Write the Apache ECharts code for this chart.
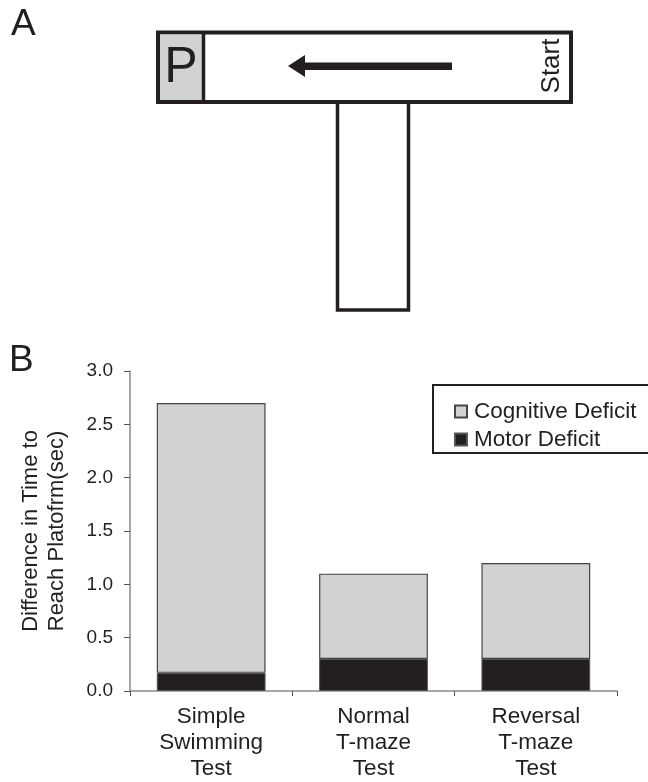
<!DOCTYPE html>
<html>
<head>
<meta charset="utf-8">
<script src="https://cdn.jsdelivr.net/npm/echarts@6/dist/echarts.min.js"></script>
<style>
html,body{margin:0;padding:0;background:#fff;}
#chart{width:648px;height:782px;}
</style>
</head>
<body>
<div id="chart"></div>
<script>
// ---- data ----
const categories = ['Simple\nSwimming\nTest', 'Normal\nT-maze\nTest', 'Reversal\nT-maze\nTest'];
const motorDeficit = [0.17, 0.30, 0.30];
const cognitiveDeficit = [2.53, 0.80, 0.90];
const yTickLabels = ['0.0', '0.5', '1.0', '1.5', '2.0', '2.5', '3.0'];
const seriesNames = ['Cognitive Deficit', 'Motor Deficit'];

const FONT = '"Liberation Sans", Arial, Helvetica, sans-serif';
const INK = '#231f20';
const AXIS = '#8a8a8a';

const chart = echarts.init(document.getElementById('chart'), null, {renderer: 'canvas'});

const option = {
  backgroundColor: '#ffffff',
  animation: false,
  textStyle: {fontFamily: FONT, color: INK},
  grid: {left: 130, right: 31, top: 371, bottom: 89, containLabel: false},
  legend: {
    data: seriesNames,
    orient: 'vertical',
    left: 449,
    top: 395,
    itemWidth: 12,
    itemHeight: 12,
    itemGap: 5,
    icon: 'rect',
    textStyle: {fontFamily: FONT, fontSize: 22.5, color: INK, lineHeight: 22, padding: [0, 0, 0, 2]}
  },
  xAxis: {
    type: 'category',
    data: categories,
    axisLine: {lineStyle: {color: AXIS, width: 1.5}},
    axisTick: {show: true, length: 5, lineStyle: {color: '#555'}},
    axisLabel: {fontFamily: FONT, fontSize: 22.5, lineHeight: 26, color: INK, margin: 13, interval: 0}
  },
  yAxis: {
    type: 'value',
    min: 0,
    max: 3,
    interval: 0.5,
    name: 'Difference in Time to\nReach Platofrm(sec)',
    nameLocation: 'middle',
    nameRotate: 90,
    nameGap: 60,
    nameTextStyle: {fontFamily: FONT, fontSize: 22, lineHeight: 26, color: INK},
    splitLine: {show: false},
    axisLine: {show: true, lineStyle: {color: AXIS, width: 1.5}},
    axisTick: {show: true, length: 6, lineStyle: {color: '#555'}},
    axisLabel: {
      fontFamily: FONT, fontSize: 19, color: INK, margin: 17,
      formatter: function (v) { return yTickLabels[Math.round(v / 0.5)]; }
    }
  },
  series: [
    {
      name: 'Motor Deficit',
      type: 'bar',
      stack: 'total',
      data: motorDeficit,
      barCategoryGap: '33%',
      itemStyle: {color: INK, borderColor: '#555', borderWidth: 1}
    },
    {
      name: 'Cognitive Deficit',
      type: 'bar',
      stack: 'total',
      data: cognitiveDeficit,
      barCategoryGap: '33%',
      itemStyle: {color: '#d1d2d4', borderColor: '#444', borderWidth: 1.2}
    }
  ],
  graphic: [
    // panel letters
    {type: 'text', left: 11, top: 6, style: {text: 'A', font: '37px ' + FONT, fill: INK}},
    {type: 'text', left: 9, top: 342, style: {text: 'B', font: '37px ' + FONT, fill: INK}},
    // legend box
    {type: 'rect', shape: {x: 433, y: 385, width: 240, height: 68}, style: {fill: 'none', stroke: INK, lineWidth: 2}, z: 1},
    // T-maze stem
    {type: 'rect', shape: {x: 337.5, y: 102, width: 71, height: 208}, style: {fill: '#fff', stroke: INK, lineWidth: 3.5}, z: 10},
    // T-maze top arm
    {type: 'rect', shape: {x: 158, y: 32.5, width: 413, height: 69.5}, style: {fill: '#fff', stroke: INK, lineWidth: 4}, z: 11},
    // platform
    {type: 'rect', shape: {x: 160, y: 34.5, width: 43, height: 65.5}, style: {fill: '#d1d2d4', stroke: 'none'}, z: 12},
    {type: 'line', shape: {x1: 203.5, y1: 32.5, x2: 203.5, y2: 102}, style: {stroke: INK, lineWidth: 3.5}, z: 13},
    {type: 'text', x: 181, y: 68, style: {text: 'P', font: '50px ' + FONT, fill: INK, textAlign: 'center', textVerticalAlign: 'middle'}, z: 14},
    // arrow
    {type: 'rect', shape: {x: 302, y: 62.5, width: 150, height: 7.5}, style: {fill: INK}, z: 14},
    {type: 'polygon', shape: {points: [[288, 66], [305, 55], [305, 77]]}, style: {fill: INK}, z: 14},
    // Start label
    {type: 'text', x: 552, y: 66, rotation: Math.PI / 2, style: {text: 'Start', font: '26px ' + FONT, fill: INK, textAlign: 'center', textVerticalAlign: 'middle'}, z: 14}
  ]
};

chart.setOption(option);
</script>
</body>
</html>
